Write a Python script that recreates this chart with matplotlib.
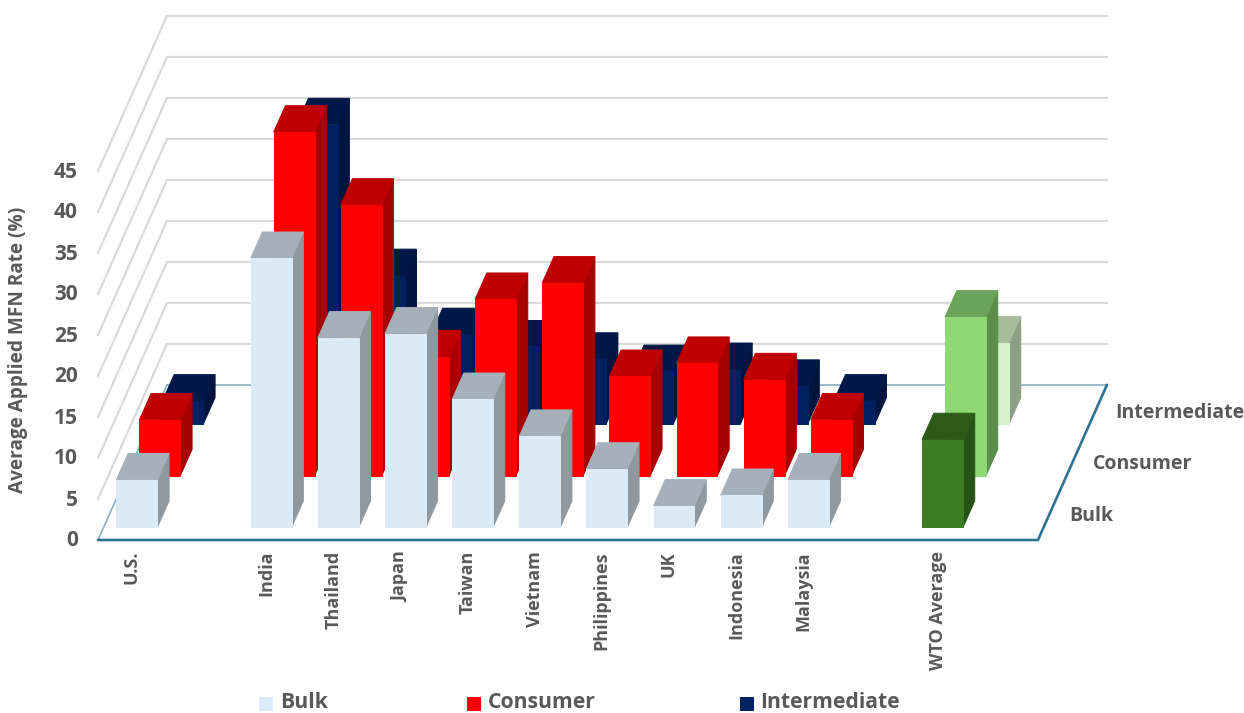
import matplotlib
matplotlib.use("Agg")
import matplotlib.pyplot as plt
from matplotlib.patches import Polygon, Rectangle

# Data (percent)
countries = ["U.S.", "", "India", "Thailand", "Japan", "Taiwan", "Vietnam",
             "Philippines", "UK", "Indonesia", "Malaysia", "", "WTO Average"]
bulk = [5.8, None, 32.8, 23.1, 23.6, 15.6, 11.1, 7.1, 2.6, 3.9, 5.8, None, 10.7]
consumer = [6.8, None, 41.9, 33.0, 14.5, 21.5, 23.5, 12.1, 13.7, 11.7, 6.8, None, 19.35]
intermediate = [2.8, None, 36.5, 18.1, 10.9, 9.4, 7.9, 6.4, 6.65, 4.6, 2.8, None, 9.9]
y_ticks = [0, 5, 10, 15, 20, 25, 30, 35, 40, 45]
row_names = ["Bulk", "Consumer", "Intermediate"]

# (front, top, side) shades for each series, and for the highlighted category
row_colors = [("#DCE9F7", "#A6B0BA", "#8F979F"),
              ("#FF0000", "#BF0000", "#A60000"),
              ("#002060", "#001848", "#001440")]
wto_colors = [("#3A7D22", "#2D5A17", "#275317"),
              ("#8FD975", "#6BA35A", "#5B8E4B"),
              ("#D9F2D0", "#A7BC9C", "#8D9F85")]

# Oblique chart projection, in pixels
X0, Y0 = 98.0, 540.0
CAT_W = 67.14
ROW_DX, ROW_DY = 23.0, 51.7
UNIT = 8.2
N_CATS, N_ROWS = 14, 3
BAR_LEFT, BAR_W = 0.19, 0.61
BAR_FRONT, BAR_DEPTH = 0.245, 0.51

TEXT = "#595959"
FONT = "Open Sans"


def project(cat, row, value):
    return (X0 + CAT_W * cat + ROW_DX * row, Y0 - ROW_DY * row - UNIT * value)


def draw_bar(ax, cat, row, value, colors, z):
    front, top, side = colors
    c0, c1 = cat + BAR_LEFT, cat + BAR_LEFT + BAR_W
    r0, r1 = row + BAR_FRONT, row + BAR_FRONT + BAR_DEPTH
    faces = [
        ([(c1, r0, 0), (c1, r1, 0), (c1, r1, value), (c1, r0, value)], side),
        ([(c0, r0, value), (c1, r0, value), (c1, r1, value), (c0, r1, value)], top),
        ([(c0, r0, 0), (c1, r0, 0), (c1, r0, value), (c0, r0, value)], front),
    ]
    for corners, color in faces:
        ax.add_patch(Polygon([project(*p) for p in corners], closed=True,
                             facecolor=color, edgecolor=color, lw=0.7, zorder=z))


fig = plt.figure(figsize=(12.44, 7.13), dpi=100, facecolor="white")
ax = fig.add_axes([0, 0, 1, 1])
ax.set_xlim(0, 1244)
ax.set_ylim(713, 0)
ax.axis("off")

# Wall gridlines
for v in y_ticks[1:]:
    pts = [project(0, 0, v), project(0, N_ROWS, v), project(N_CATS, N_ROWS, v)]
    ax.plot(*zip(*pts), color="#D9D9D9", lw=1.5, zorder=1, solid_joinstyle="miter")

# Floor
floor = [project(0, 0, 0), project(N_CATS, 0, 0),
         project(N_CATS, N_ROWS, 0), project(0, N_ROWS, 0)]
ax.add_patch(Polygon(floor, closed=True, facecolor="white", edgecolor="none", zorder=2))
ax.plot(*zip(floor[3], floor[2]), color="#8FB4C6", lw=1.3, zorder=2)
ax.plot(*zip(floor[3], floor[0]), color="#8FB4C6", lw=1.3, zorder=2)
ax.plot(*zip(floor[0], floor[1], floor[2]), color="#2E7294", lw=1.9, zorder=2,
        solid_joinstyle="miter", solid_capstyle="round")

# Bars, back row first
series = [bulk, consumer, intermediate]
for row in range(N_ROWS - 1, -1, -1):
    for cat, value in enumerate(series[row]):
        if value is None:
            continue
        colors = wto_colors[row] if countries[cat] == "WTO Average" else row_colors[row]
        draw_bar(ax, cat, row, value, colors, 5 + N_ROWS - row)

# Value axis labels
for v in y_ticks:
    ax.text(78, Y0 + 1 - UNIT * v, str(v), ha="right", va="center", family=FONT,
            fontweight="bold", fontsize=15, color=TEXT)
ax.text(18, 350, "Average Applied MFN Rate (%)", rotation=90, ha="center", va="center",
        family=FONT, fontweight="bold", fontsize=13.7, color=TEXT)

# Category labels
for cat, name in enumerate(countries):
    if name:
        x, _ = project(cat + BAR_LEFT + BAR_W / 2, BAR_FRONT, 0)
        ax.text(x - 5, 551, name, rotation=90, ha="center", va="top", family=FONT,
                fontweight="bold", fontsize=13, color=TEXT)

# Depth labels beside the floor
for row, name in enumerate(row_names):
    x, y = project(N_CATS, row + 0.5, 0)
    ax.text(x + 20, y + 2, name, ha="left", va="center", family=FONT,
            fontweight="bold", fontsize=14, color=TEXT)

# Legend
legend_x = [(259, 280), (467, 488), (740, 760)]
for (sx, tx), name, colors in zip(legend_x, row_names, row_colors):
    ax.add_patch(Rectangle((sx, 697), 14, 14, facecolor=colors[0], edgecolor="none"))
    ax.text(tx, 702, name, ha="left", va="center", family=FONT,
            fontweight="bold", fontsize=15.2, color=TEXT)

fig.savefig("out.png", dpi=100, facecolor="white")
